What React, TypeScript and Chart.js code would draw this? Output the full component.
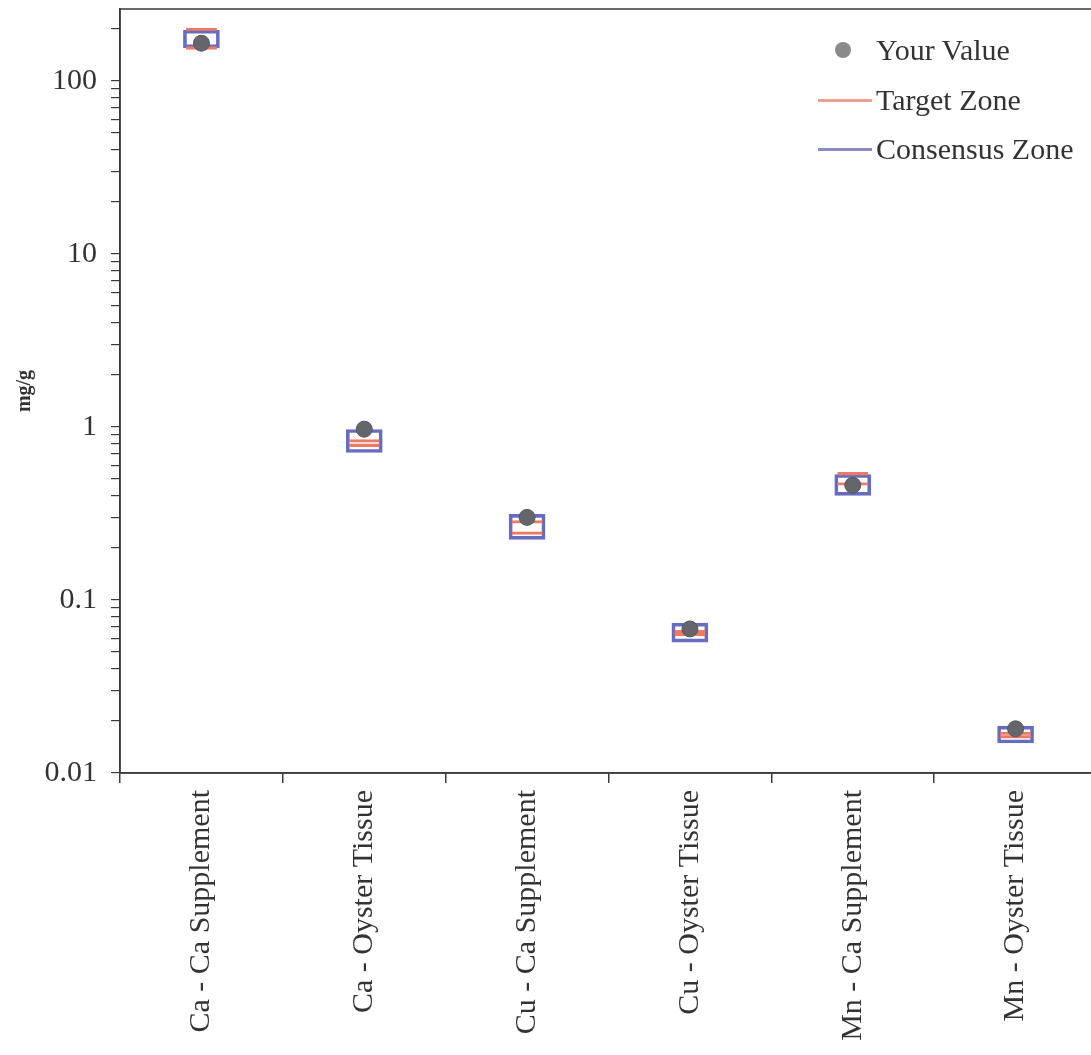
import React, { useEffect, useRef } from "react";
import { Chart, registerables } from "chart.js";

Chart.register(...registerables);

const categories = [
  "Ca - Ca Supplement",
  "Ca - Oyster Tissue",
  "Cu - Ca Supplement",
  "Cu - Oyster Tissue",
  "Mn - Ca Supplement",
  "Mn - Oyster Tissue",
];
const yourValue = [165, 0.97, 0.3, 0.068, 0.46, 0.018];
const targetLow = [152, 0.77, 0.239, 0.062, 0.46, 0.0159];
const targetHigh = [202, 0.846, 0.288, 0.067, 0.546, 0.01725];
const consensusLow = [155, 0.711, 0.224, 0.057, 0.402, 0.0149];
const consensusHigh = [196, 0.966, 0.312, 0.0734, 0.531, 0.01867];
const yMajorTicks = [0.01, 0.1, 1, 10, 100];
const yMinorSteps = [1, 2, 3, 4, 5, 6, 7, 8, 9];
const yMin = 0.01;
const yMax = 260;

const CANVAS_W = 1113;
const CANVAS_H = 1055;
const FONT = "'Liberation Serif', 'Times New Roman', serif";
const TEXT = "#333333";

const borderPlugin = {
  id: "areaBorder",
  afterDraw(chart: any) {
    const { ctx, chartArea } = chart;
    ctx.save();
    ctx.strokeStyle = "#3a3a3a";
    ctx.lineWidth = 1.5;
    ctx.strokeRect(chartArea.left, chartArea.top, chartArea.right - chartArea.left, chartArea.bottom - chartArea.top);
    ctx.restore();
  },
};

export default function App() {
  const ref = useRef<HTMLCanvasElement | null>(null);

  useEffect(() => {
    if (!ref.current) return;
    const tickValues: number[] = [];
    yMajorTicks.forEach((d) => {
      yMinorSteps.forEach((m) => {
        const v = Number((d * m).toPrecision(6));
        if (v >= yMin && v <= yMax) tickValues.push(v);
      });
    });

    const chart = new Chart(ref.current, {
      type: "bar",
      data: {
        labels: categories,
        datasets: [
          {
            type: "line",
            label: "Your Value",
            data: yourValue,
            showLine: false,
            pointRadius: 8,
            pointBackgroundColor: "#64666c",
            pointBorderColor: "#55575d",
            pointBorderWidth: 1,
            order: 0,
          } as any,
          {
            type: "bar",
            label: "Target Zone",
            data: targetLow.map((lo, i) => [lo, targetHigh[i]]),
            backgroundColor: "rgba(0,0,0,0)",
            borderColor: "#ee7a64",
            borderWidth: { top: 2.5, bottom: 2.5, left: 0, right: 0 },
            borderSkipped: false,
            barThickness: 31,
            grouped: false,
            order: 1,
          } as any,
          {
            type: "bar",
            label: "Consensus Zone",
            data: consensusLow.map((lo, i) => [lo, consensusHigh[i]]),
            backgroundColor: "rgba(0,0,0,0)",
            borderColor: "#676cc0",
            borderWidth: 3,
            borderSkipped: false,
            barThickness: 36,
            grouped: false,
            order: 2,
          } as any,
        ],
      },
      options: {
        responsive: false,
        animation: false,
        devicePixelRatio: 1,
        layout: { padding: { top: 8, right: 16, bottom: 0, left: 0 } },
        plugins: {
          legend: { display: false },
          tooltip: { enabled: false },
        },
        scales: {
          x: {
            type: "category",
            offset: true,
            grid: {
              offset: true,
              drawOnChartArea: false,
              drawTicks: true,
              tickLength: 10,
              color: "#3a3a3a",
              lineWidth: 1.5,
            },
            border: { display: true, color: "#3a3a3a", width: 1.5 },
            ticks: {
              minRotation: 90,
              maxRotation: 90,
              autoSkip: false,
              padding: 7,
              color: TEXT,
              font: { family: FONT, size: 30 },
            },
            afterFit: (scale: any) => {
              scale.height = 282;
              scale.paddingLeft = 0;
              scale.paddingRight = 0;
            },
          },
          y: {
            type: "logarithmic",
            min: yMin,
            max: yMax,
            grid: {
              drawOnChartArea: false,
              drawTicks: true,
              tickLength: 9,
              color: "#3a3a3a",
              lineWidth: 1.2,
            },
            border: { display: true, color: "#3a3a3a", width: 1.5 },
            afterBuildTicks: (scale: any) => {
              scale.ticks = tickValues.map((v) => ({ value: v, major: yMajorTicks.includes(v) }));
            },
            ticks: {
              autoSkip: false,
              padding: 14,
              color: TEXT,
              font: { family: FONT, size: 30 },
              callback: (v: any) => {
                const n = Number(v);
                return yMajorTicks.some((m) => Math.abs(m - n) < m * 1e-6) ? String(n) : "";
              },
            },
            title: {
              display: true,
              text: "mg/g",
              color: TEXT,
              font: { family: FONT, size: 20, weight: "bold" },
              padding: { top: 13, bottom: 0 },
            },
            afterFit: (scale: any) => {
              scale.width = 120;
              scale.paddingTop = 0;
              scale.paddingBottom = 0;
            },
          },
        },
      },
      plugins: [borderPlugin],
    } as any);
    return () => chart.destroy();
  }, []);

  const legendText: React.CSSProperties = {
    position: "absolute",
    left: 876,
    fontFamily: FONT,
    fontSize: 30,
    color: TEXT,
    lineHeight: "30px",
    whiteSpace: "nowrap",
  };
  const line = (y: number, color: string): React.CSSProperties => ({
    position: "absolute",
    left: 818,
    top: y - 1.5,
    width: 54,
    height: 3,
    background: color,
  });

  return (
    <div
      style={{
        position: "fixed",
        left: 0,
        top: 0,
        width: 1091,
        height: CANVAS_H,
        overflow: "hidden",
        background: "#ffffff",
      }}
    >
      <canvas
        ref={ref}
        width={CANVAS_W}
        height={CANVAS_H}
        style={{ width: CANVAS_W, height: CANVAS_H, display: "block" }}
      />
      <div
        style={{
          position: "absolute",
          left: 835,
          top: 42,
          width: 16,
          height: 16,
          borderRadius: "50%",
          background: "#8a8a8c",
        }}
      />
      <div style={{ ...legendText, top: 50 - 15 }}>Your Value</div>
      <div style={line(100, "#f2a08e")} />
      <div style={{ ...legendText, top: 100 - 15 }}>Target Zone</div>
      <div style={line(149, "#8a8cc4")} />
      <div style={{ ...legendText, top: 149 - 15 }}>Consensus Zone</div>
    </div>
  );
}
